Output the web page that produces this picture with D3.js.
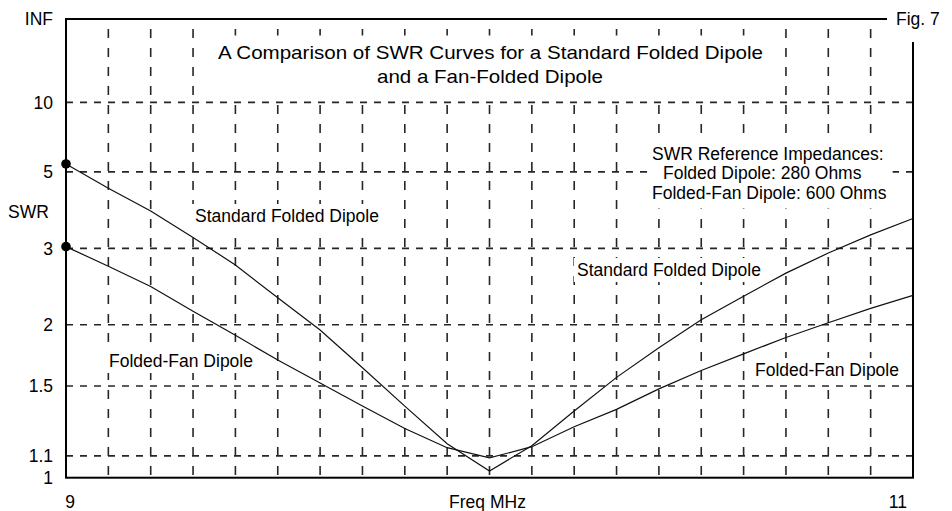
<!DOCTYPE html>
<html>
<head>
<meta charset="utf-8">
<script src="https://cdn.jsdelivr.net/npm/d3@7"></script>
<style>
  html, body { margin: 0; padding: 0; background: #fff; }
  svg { display: block; }
  text { font-family: "Liberation Sans", Arial, sans-serif; font-size: 17.5px; fill: #000; }
</style>
</head>
<body>
<svg id="chart" width="952" height="511"></svg>
<script>
// ---- data ----
const freqs = [9.0, 9.1, 9.2, 9.3, 9.4, 9.5, 9.6, 9.7, 9.8, 9.9, 10.0,
               10.1, 10.2, 10.3, 10.4, 10.5, 10.6, 10.7, 10.8, 10.9, 11.0];
const standardSWR = [5.33, 4.42, 3.78, 3.20, 2.73, 2.29, 1.95, 1.63, 1.37, 1.16, 1.03,
                     1.15, 1.34, 1.56, 1.79, 2.05, 2.31, 2.61, 2.92, 3.25, 3.60];
const fanSWR = [3.03, 2.71, 2.43, 2.14, 1.90, 1.69, 1.52, 1.37, 1.24, 1.14, 1.09,
                1.145, 1.25, 1.35, 1.48, 1.61, 1.74, 1.88, 2.02, 2.17, 2.32];
const yTickValues = [1, 1.1, 1.5, 2, 3, 5, 10, Infinity];
const yTickLabels = ["1", "1.1", "1.5", "2", "3", "5", "10", "INF"];
const yGridValues = [1.1, 1.5, 2, 3, 5, 10];
const xTickValues = [9, 11];
const xTickLabels = ["9", "11"];
const titleLines = ["A Comparison of SWR Curves for a Standard Folded Dipole", "and a Fan-Folded Dipole"];
const refLines = ["SWR Reference Impedances:", "Folded Dipole: 280 Ohms", "Folded-Fan Dipole: 600 Ohms"];

// ---- layout ----
const L = 66, R = 913, T = 19, B = 477.7;
const svg = d3.select("#chart");

const x = d3.scaleLinear().domain([9, 11]).range([L, R]);
const rhoScale = d3.scaleLinear().domain([0, 1]).range([B, T]);
const rho = s => (s === Infinity ? 1 : (s - 1) / (s + 1));
const y = s => rhoScale(rho(s));

const gridColor = "#262626";

// vertical grid lines (every 0.1 MHz)
svg.append("g").selectAll("line").data(freqs.slice(1, -1)).join("line")
  .attr("x1", d => x(d)).attr("x2", d => x(d))
  .attr("y1", T).attr("y2", B)
  .attr("stroke", gridColor).attr("stroke-width", 1.6)
  .attr("stroke-dasharray", "9,10").attr("stroke-dashoffset", 9);

// horizontal grid lines
svg.append("g").selectAll("line").data(yGridValues).join("line")
  .attr("x1", L).attr("x2", R)
  .attr("y1", d => y(d)).attr("y2", d => y(d))
  .attr("stroke", gridColor).attr("stroke-width", 1.6)
  .attr("stroke-dasharray", "7,7");

// helper: text with white background mask
function maskedText(g, lines, opts) {
  const grp = g.append("g");
  const bg = grp.append("rect").attr("fill", "#fff");
  lines.forEach((ln) => {
    const t = grp.append("text").attr("x", ln.x).attr("y", ln.y)
      .attr("text-anchor", ln.anchor || "start").text(ln.t);
    if (ln.size) t.style("font-size", ln.size + "px");
    if (ln.len) t.attr("textLength", ln.len).attr("lengthAdjust", "spacingAndGlyphs");
  });
  const texts = grp.selectAll("text").nodes();
  let x0 = Infinity, y0 = Infinity, x1 = -Infinity, y1 = -Infinity;
  texts.forEach(n => {
    const b = n.getBBox();
    x0 = Math.min(x0, b.x); y0 = Math.min(y0, b.y);
    x1 = Math.max(x1, b.x + b.width); y1 = Math.max(y1, b.y + b.height);
  });
  const p = opts || {l: 3, r: 3, t: 2, b: 2};
  bg.attr("x", x0 - p.l).attr("y", y0 - p.t)
    .attr("width", x1 - x0 + p.l + p.r).attr("height", y1 - y0 + p.t + p.b);
  return grp;
}

const labels = svg.append("g");
// title
maskedText(labels, [
  {t: titleLines[0], x: 490.5, y: 58.5, anchor: "middle", size: 18.5, len: 545},
  {t: titleLines[1], x: 490, y: 82.5, anchor: "middle", size: 18.5, len: 226}
], {l: 5, r: 5, t: 6, b: 9});

// reference impedances
maskedText(labels, [
  {t: refLines[0], x: 652, y: 159.5},
  {t: refLines[1], x: 663, y: 179},
  {t: refLines[2], x: 652, y: 198.5}
], {l: 4, r: 6, t: 8, b: 6});

// curve labels
maskedText(labels, [{t: "Standard Folded Dipole", x: 195, y: 222}]);
maskedText(labels, [{t: "Standard Folded Dipole", x: 577, y: 276}]);
maskedText(labels, [{t: "Folded-Fan Dipole", x: 109, y: 367}]);
maskedText(labels, [{t: "Folded-Fan Dipole", x: 755, y: 376}]);

// frame
svg.append("rect").attr("x", L).attr("y", T).attr("width", R - L).attr("height", B - T)
  .attr("fill", "none").attr("stroke", "#000").attr("stroke-width", 2);

// Fig. 7 label (masks the corner)
maskedText(svg, [{t: "Fig. 7", x: 896, y: 25}], {l: 9, r: 20, t: 10, b: 13});

// y tick labels
svg.append("g").selectAll("text").data(yTickValues).join("text")
  .attr("x", 53).attr("y", d => y(d) + 6.3)
  .attr("text-anchor", "end")
  .text((d, i) => yTickLabels[i]);

// y axis title
svg.append("text").attr("x", 8).attr("y", 218).text("SWR");

// x tick labels
svg.append("g").selectAll("text").data(xTickValues).join("text")
  .attr("x", (d, i) => i === 0 ? x(d) + 4 : x(d) - 6)
  .attr("y", 508)
  .attr("text-anchor", (d, i) => i === 0 ? "middle" : "end")
  .text((d, i) => xTickLabels[i]);
svg.append("text").attr("x", x(10) - 2).attr("y", 508).attr("text-anchor", "middle").text("Freq MHz");

// curves
const line = d3.line().x((d, i) => x(freqs[i])).y(d => y(d));
[standardSWR, fanSWR].forEach(series => {
  svg.append("path").datum(series).attr("d", line)
    .attr("fill", "none").attr("stroke", "#111").attr("stroke-width", 1.2);
});

// start-point dots
svg.append("g").selectAll("circle").data([standardSWR[0], fanSWR[0]]).join("circle")
  .attr("cx", x(freqs[0])).attr("cy", d => y(d)).attr("r", 4.8).attr("fill", "#000");
</script>
</body>
</html>
